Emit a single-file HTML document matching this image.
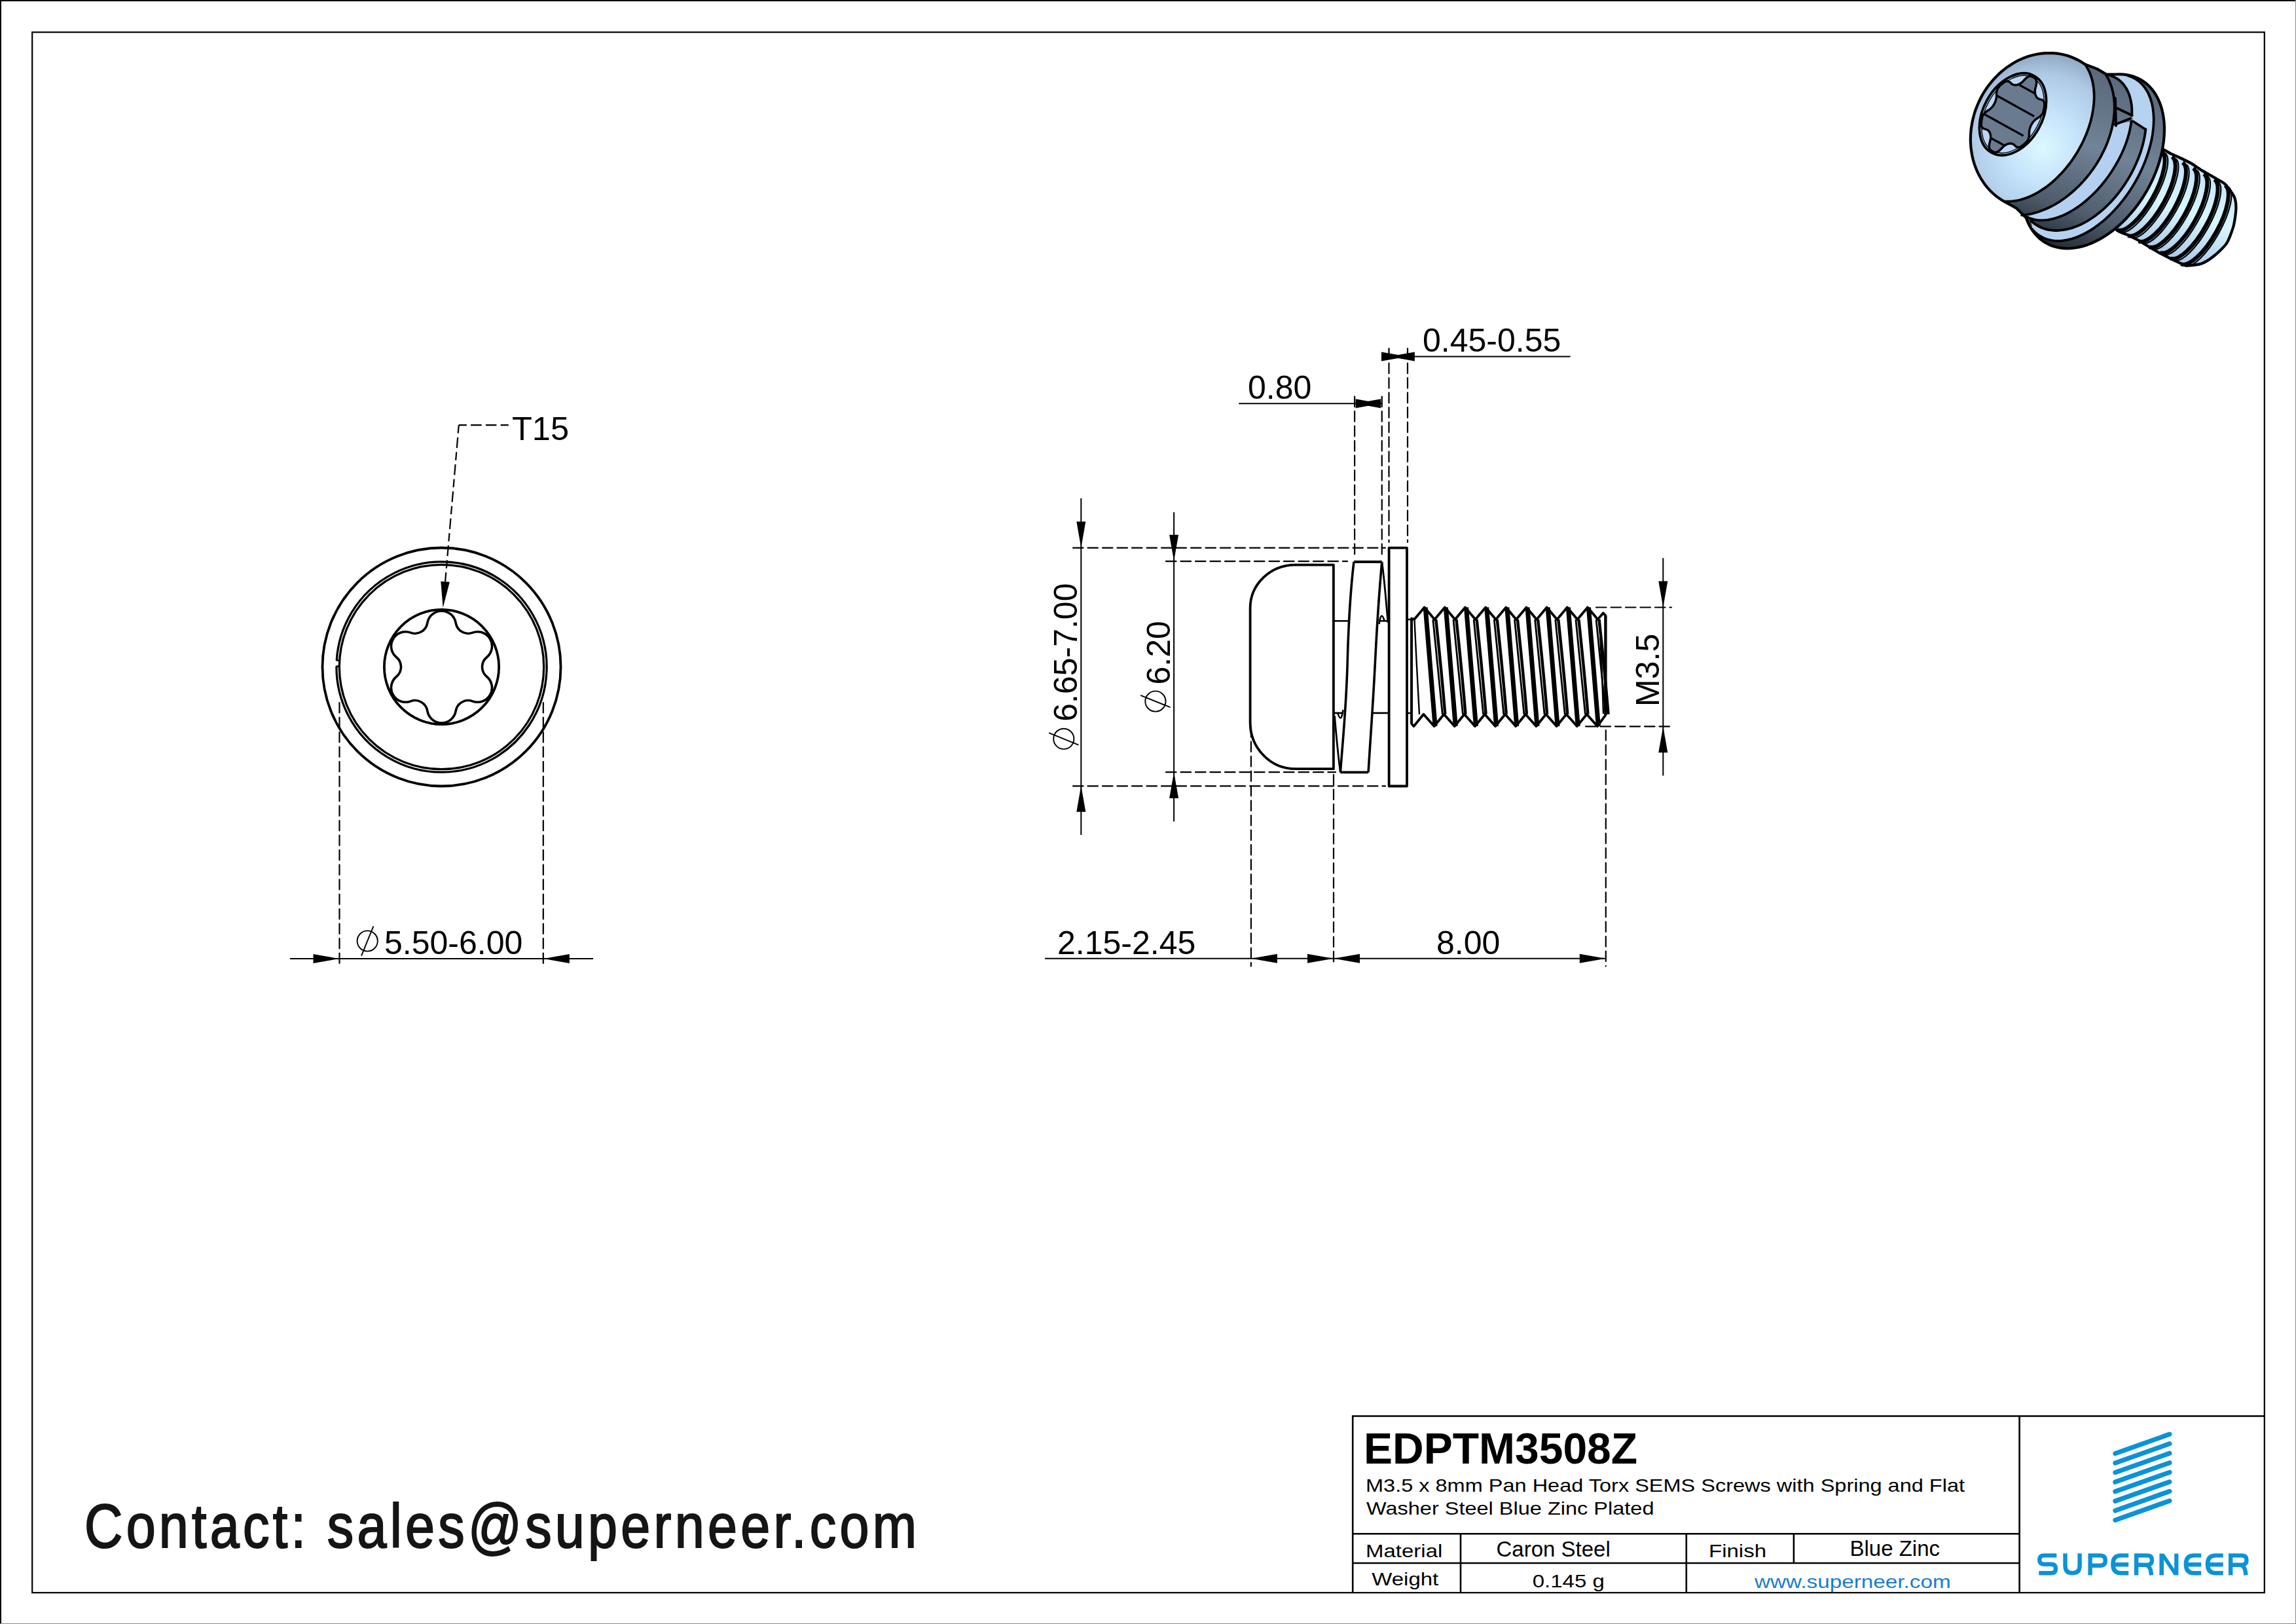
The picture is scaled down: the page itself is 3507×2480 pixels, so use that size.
<!DOCTYPE html><html><head><meta charset="utf-8"><style>html,body{margin:0;padding:0;background:#fff;}svg{display:block}</style></head><body>
<svg width="3507" height="2480" viewBox="0 0 3507 2480">
<rect x="0" y="0" width="3507" height="2480" fill="#fff"/>
<rect x="0" y="0" width="3507" height="2" fill="#000"/><rect x="0" y="0" width="2" height="2480" fill="#000"/>
<rect x="3506" y="0" width="1" height="2480" fill="#8a8a8a"/>
<rect x="0" y="2479" width="3507" height="1" fill="#8a8a8a"/>
<rect x="49.2" y="49.2" width="3409.6" height="2383" fill="none" stroke="#000" stroke-width="2.2"/>
<g fill="none" stroke="#000">
<circle cx="674.5" cy="1018.5" r="182" stroke-width="3.8"/>
<circle cx="674.5" cy="1018.5" r="156.2" stroke-width="3.3"/>
<path d="M514.21,1008.5 A160.6,160.6 0 1 1 513.9,1017.5" stroke-width="3.3"/>
<path d="M513.71,1008.5 H518.71 M513.4,1017.5 H518.4" stroke-width="2.5"/>
<circle cx="674.5" cy="1018.5" r="87.6" stroke-width="3.8"/>
<path d="M652.8,951.39 A22,22 0 0 1 696.2,951.39 A19.11,19.11 0 0 0 721.77,966.15 A22,22 0 0 1 743.47,1003.74 A19.11,19.11 0 0 0 743.47,1033.26 A22,22 0 0 1 721.77,1070.85 A19.11,19.11 0 0 0 696.2,1085.61 A22,22 0 0 1 652.8,1085.61 A19.11,19.11 0 0 0 627.23,1070.85 A22,22 0 0 1 605.53,1033.26 A19.11,19.11 0 0 0 605.53,1003.74 A22,22 0 0 1 627.23,966.15 A19.11,19.11 0 0 0 652.8,951.39 Z" stroke-width="3.6"/>
</g>
<path d="M700.8,649.2 L776.7,649.2" fill="none" stroke="#000" stroke-width="2.2" stroke-dasharray="12 6.3 16.5 6.3 16.5 6.3 14"/>
<path d="M700.8,649.2 L680.06,888.25" fill="none" stroke="#000" stroke-width="2.2" stroke-dasharray="12.5 6.3 16.3 6.3"/>
<path d="M676.6,928.1 L673.28,887.66 L686.83,888.84 Z" fill="#000"/>
<text x="782" y="671.5" font-family="Liberation Sans" font-size="50.5" fill="#000">T15</text>
<line x1="518.5" y1="1073" x2="518.5" y2="1472.5" stroke="#000" stroke-width="2.2" stroke-dasharray="15.5 7" stroke-linecap="round"/>
<line x1="829.8" y1="1073" x2="829.8" y2="1472.5" stroke="#000" stroke-width="2.2" stroke-dasharray="15.5 7" stroke-linecap="round"/>
<line x1="443" y1="1464" x2="906" y2="1464" stroke="#000" stroke-width="2"/>
<path d="M518.5,1464 L478.5,1471 L478.5,1457 Z" fill="#000"/>
<path d="M829.8,1464 L869.8,1457 L869.8,1471 Z" fill="#000"/>
<g transform="translate(561.2,1437) rotate(0)"><circle cx="0" cy="0" r="15.6" fill="none" stroke="#000" stroke-width="1.9"/><line x1="-9.22" y1="22.7" x2="9.22" y2="-22.7" stroke="#000" stroke-width="1.9"/></g>
<text x="587" y="1457.2" font-family="Liberation Sans" font-size="50" fill="#000">5.50-6.00</text>
<g fill="none" stroke="#000" stroke-linejoin="round">
<path d="M2036.9,862.6 H1978.5 A69,66 0 0 0 1909.6,928.4 V1103 A69,71 0 0 0 1978.5,1174.2 H2036.9 Z" stroke-width="3.8"/>
<path d="M2037,948.3 H2061 M2108,948.3 H2121.6 M2037,1088.9 H2050 M2097,1088.9 H2121.6 M2149,946 H2156 M2149,1089 H2156" stroke-width="2.6"/>
<path d="M2067.9,858 H2110.8 M2047.4,1179.4 H2090.1" stroke-width="3.8"/>
<path d="M2067.9,858 C2063,900 2059.5,960 2058.2,1010 C2056.5,1080 2051,1130 2047.4,1179.4" stroke-width="3.6"/>
<path d="M2110.8,858 C2107,900 2103,960 2100.5,1010 C2097,1080 2093,1130 2090.1,1179.4" stroke-width="3.6"/>
<path d="M2110.8,858 C2114,880 2117,915 2120,951" stroke-width="2.8"/>
<path d="M2047.4,1179.4 C2044,1157 2041,1122 2038.5,1093" stroke-width="2.8"/>
<path d="M2106.5,953 C2107.5,945 2109,940.5 2110.5,940.5 C2112,940.5 2113.5,944 2115,949" stroke-width="2.6"/>
<path d="M2051.5,1084 C2050.5,1092 2049,1096.5 2047.5,1096.5 C2046,1096.5 2044.5,1093 2043,1088" stroke-width="2.6"/>
<rect x="2121.6" y="836.7" width="27.4" height="363.8" stroke-width="3.8"/>
<path d="M2156.1,944.5 L2160.1,945.9 L2175.7,927.6 L2191.3,945.9 L2206.86,927.6 L2222.46,945.9 L2238.02,927.6 L2253.62,945.9 L2269.18,927.6 L2284.78,945.9 L2300.34,927.6 L2315.94,945.9 L2331.5,927.6 L2347.1,945.9 L2362.66,927.6 L2378.26,945.9 L2393.82,927.6 L2409.42,945.9 L2424.98,927.6 L2440.58,945.9 L2448.7,936.2 L2452.4,940 L2452.4,1092 L2439.88,1109.1 L2423.68,1090.8 L2408.72,1109.1 L2392.52,1090.8 L2377.56,1109.1 L2361.36,1090.8 L2346.4,1109.1 L2330.2,1090.8 L2315.24,1109.1 L2299.04,1090.8 L2284.08,1109.1 L2267.88,1090.8 L2252.92,1109.1 L2236.72,1090.8 L2221.76,1109.1 L2205.56,1090.8 L2190.6,1109.1 L2174.4,1090.8 L2159.44,1109.1 L2156.1,1105 Z" stroke-width="3.8"/>
<path d="M2177.2,927.6 L2192.1,1109.1 M2208.36,927.6 L2223.26,1109.1 M2239.52,927.6 L2254.42,1109.1 M2270.68,927.6 L2285.58,1109.1 M2301.84,927.6 L2316.74,1109.1 M2333,927.6 L2347.9,1109.1 M2364.16,927.6 L2379.06,1109.1 M2395.32,927.6 L2410.22,1109.1 M2426.48,927.6 L2441.38,1109.1 " stroke-width="7"/>
<path d="M2188.8,946 Q2197.3,1030 2203.3,1090.8 M2219.96,946 Q2228.46,1030 2234.46,1090.8 M2251.12,946 Q2259.62,1030 2265.62,1090.8 M2282.28,946 Q2290.78,1030 2296.78,1090.8 M2313.44,946 Q2321.94,1030 2327.94,1090.8 M2344.6,946 Q2353.1,1030 2359.1,1090.8 M2375.76,946 Q2384.26,1030 2390.26,1090.8 M2406.92,946 Q2415.42,1030 2421.42,1090.8 M2438.08,946 Q2446.58,1030 2452.58,1090.8 " stroke-width="2.8"/>
<path d="M2193.3,946 Q2202.3,1030 2207.3,1090.8 M2224.46,946 Q2233.46,1030 2238.46,1090.8 M2255.62,946 Q2264.62,1030 2269.62,1090.8 M2286.78,946 Q2295.78,1030 2300.78,1090.8 M2317.94,946 Q2326.94,1030 2331.94,1090.8 M2349.1,946 Q2358.1,1030 2363.1,1090.8 M2380.26,946 Q2389.26,1030 2394.26,1090.8 M2411.42,946 Q2420.42,1030 2425.42,1090.8 M2442.58,946 Q2451.58,1030 2456.58,1090.8 " stroke-width="4.4"/>
<path d="M2156.1,944.5 L2156.1,1105" stroke-width="3.6"/>
<path d="M2160.5,946 Q2164,1020 2168,1091" stroke-width="2.4"/>
<path d="M2452.4,940 L2452.4,1092" stroke-width="4"/>
<path d="M2443,946 Q2447,1020 2449,1090" stroke-width="2.4"/>
</g>
<line x1="1639" y1="836.6" x2="2116" y2="836.6" stroke="#000" stroke-width="2.2" stroke-dasharray="15.5 7" stroke-linecap="round"/>
<line x1="1639" y1="1200.4" x2="2116" y2="1200.4" stroke="#000" stroke-width="2.2" stroke-dasharray="15.5 7" stroke-linecap="round"/>
<line x1="1781" y1="857.2" x2="2058" y2="857.2" stroke="#000" stroke-width="2.2" stroke-dasharray="15.5 7" stroke-linecap="round"/>
<line x1="1781" y1="1179.2" x2="2040" y2="1179.2" stroke="#000" stroke-width="2.2" stroke-dasharray="15.5 7" stroke-linecap="round"/>
<line x1="2069.1" y1="605.7" x2="2069.1" y2="848" stroke="#000" stroke-width="2.2" stroke-dasharray="15.5 7" stroke-linecap="round"/>
<line x1="2110.75" y1="605.7" x2="2110.75" y2="848" stroke="#000" stroke-width="2.2" stroke-dasharray="15.5 7" stroke-linecap="round"/>
<line x1="2121.5" y1="532.2" x2="2121.5" y2="828" stroke="#000" stroke-width="2.2" stroke-dasharray="15.5 7" stroke-linecap="round"/>
<line x1="2150" y1="532.2" x2="2150" y2="828" stroke="#000" stroke-width="2.2" stroke-dasharray="15.5 7" stroke-linecap="round"/>
<line x1="1910.9" y1="1110" x2="1910.9" y2="1475.5" stroke="#000" stroke-width="2.2" stroke-dasharray="15.5 7" stroke-linecap="round"/>
<line x1="2037" y1="1183" x2="2037" y2="1468.6" stroke="#000" stroke-width="2.2" stroke-dasharray="15.5 7" stroke-linecap="round"/>
<line x1="2452.8" y1="1115" x2="2452.8" y2="1475.5" stroke="#000" stroke-width="2.2" stroke-dasharray="15.5 7" stroke-linecap="round"/>
<line x1="2438" y1="927.5" x2="2553" y2="927.5" stroke="#000" stroke-width="2.2" stroke-dasharray="15.5 7" stroke-linecap="round"/>
<line x1="2422" y1="1109.3" x2="2551" y2="1109.3" stroke="#000" stroke-width="2.2" stroke-dasharray="15.5 7" stroke-linecap="round"/>
<line x1="1651.3" y1="761" x2="1651.3" y2="1275" stroke="#000" stroke-width="2"/>
<path d="M1651.3,836.5 L1644.3,796.5 L1658.3,796.5 Z" fill="#000"/>
<path d="M1651.3,1199.7 L1658.3,1239.7 L1644.3,1239.7 Z" fill="#000"/>
<line x1="1793.1" y1="782.3" x2="1793.1" y2="1254.6" stroke="#000" stroke-width="2"/>
<path d="M1793.1,856.8 L1786.1,816.8 L1800.1,816.8 Z" fill="#000"/>
<path d="M1793.1,1179 L1800.1,1219 L1786.1,1219 Z" fill="#000"/>
<line x1="2540.3" y1="852.2" x2="2540.3" y2="1184.6" stroke="#000" stroke-width="2"/>
<path d="M2540.3,927.5 L2533.3,887.5 L2547.3,887.5 Z" fill="#000"/>
<path d="M2540.3,1109.3 L2547.3,1149.3 L2533.3,1149.3 Z" fill="#000"/>
<line x1="1596" y1="1463.8" x2="2452.8" y2="1463.8" stroke="#000" stroke-width="2"/>
<path d="M1910.9,1463.8 L1950.9,1456.8 L1950.9,1470.8 Z" fill="#000"/>
<path d="M2037,1463.8 L1997,1470.8 L1997,1456.8 Z" fill="#000"/>
<path d="M2037,1463.8 L2077,1456.8 L2077,1470.8 Z" fill="#000"/>
<path d="M2452.8,1463.8 L2412.8,1470.8 L2412.8,1456.8 Z" fill="#000"/>
<line x1="1892.2" y1="616.2" x2="2110" y2="616.2" stroke="#000" stroke-width="2"/>
<path d="M2109.1,616.2 L2070.7,623.2 L2070.7,609.2 Z" fill="#000"/>
<path d="M2070.7,616.2 L2109.1,609.2 L2109.1,623.2 Z" fill="#000"/>
<line x1="2110" y1="544.5" x2="2398.6" y2="544.5" stroke="#000" stroke-width="2"/>
<path d="M2150,544.5 L2110,551.5 L2110,537.5 Z" fill="#000"/>
<path d="M2121.5,544.5 L2160.9,537.5 L2160.9,551.5 Z" fill="#000"/>
<text x="1906" y="608.8" font-family="Liberation Sans" font-size="50" fill="#000">0.80</text>
<text x="2173" y="537" font-family="Liberation Sans" font-size="50" fill="#000">0.45-0.55</text>
<text x="1615" y="1457.2" font-family="Liberation Sans" font-size="50" fill="#000">2.15-2.45</text>
<text x="2194" y="1457.2" font-family="Liberation Sans" font-size="50" fill="#000">8.00</text>
<text transform="translate(1644.8,1099.8) rotate(-90)" x="-2" y="0" font-family="Liberation Sans" font-size="50" fill="#000">6.65-7.00</text>
<g transform="translate(1624.8,1128.3) rotate(-90)"><circle cx="0" cy="0" r="15.6" fill="none" stroke="#000" stroke-width="1.9"/><line x1="-9.22" y1="22.7" x2="9.22" y2="-22.7" stroke="#000" stroke-width="1.9"/></g>
<text transform="translate(1787,1043.5) rotate(-90)" x="-2" y="0" font-family="Liberation Sans" font-size="50" fill="#000">6.20</text>
<g transform="translate(1764.9,1071) rotate(-90)"><circle cx="0" cy="0" r="15.6" fill="none" stroke="#000" stroke-width="1.9"/><line x1="-9.22" y1="22.7" x2="9.22" y2="-22.7" stroke="#000" stroke-width="1.9"/></g>
<text transform="translate(2533.5,1074.9) rotate(-90)" x="-4" y="0" font-family="Liberation Sans" font-size="50" fill="#000">M3.5</text>
<g fill="none" stroke="#000" stroke-width="2.6">
<path d="M2066.2,2432 V2162.5 H3459 M3084.6,2162.5 V2432 M2066.2,2342.2 H3084.6 M2066.2,2387 H3084.6 M2231,2342.2 V2432 M2575.8,2342.2 V2432 M2739.9,2342.2 V2387"/>
</g>
<text x="2083" y="2235.2" font-family="Liberation Sans" fill="#000" font-size="66" font-weight="bold">EDPTM3508Z</text>
<text transform="translate(2086,2277.6) scale(1,0.85)" x="0" y="0" font-family="Liberation Sans" fill="#000" font-size="32.5">M3.5 x 8mm Pan Head Torx SEMS Screws with Spring and Flat</text>
<text transform="translate(2087,2313.3) scale(1,0.85)" x="0" y="0" font-family="Liberation Sans" fill="#000" font-size="32.5">Washer Steel Blue Zinc Plated</text>
<text transform="translate(2086,2377.7) scale(1,0.85)" x="0" y="0" font-family="Liberation Sans" fill="#000" font-size="33">Material</text>
<text x="2285.5" y="2377.2" font-family="Liberation Sans" fill="#000" font-size="33">Caron Steel</text>
<text transform="translate(2610,2377.5) scale(1,0.85)" x="0" y="0" font-family="Liberation Sans" fill="#000" font-size="33">Finish</text>
<text x="2825.5" y="2376.4" font-family="Liberation Sans" fill="#000" font-size="33">Blue Zinc</text>
<text transform="translate(2095.2,2421) scale(1,0.85)" x="0" y="0" font-family="Liberation Sans" fill="#000" font-size="33">Weight</text>
<text transform="translate(2340.7,2424.3) scale(1,0.85)" x="0" y="0" font-family="Liberation Sans" fill="#000" font-size="33">0.145 g</text>
<text transform="translate(2680,2424.6) scale(1,0.85)" x="0" y="0" font-family="Liberation Sans" fill="#1a7dd0" font-size="33.3">www.superneer.com</text>
<path d="M3230.9,2219.6 L3313.9,2190.2 M3230.9,2234.13 L3313.9,2204.73 M3230.9,2248.66 L3313.9,2219.26 M3230.9,2263.19 L3313.9,2233.79 M3230.9,2277.72 L3313.9,2248.32 M3230.9,2292.25 L3313.9,2262.85 M3230.9,2306.78 L3313.9,2277.38 M3230.9,2321.31 L3313.9,2291.91 " stroke="#0a93d8" stroke-width="7.2" stroke-linecap="round" fill="none"/>
<path d="M3141.3,2375.4 H3122 Q3115.2,2375.4 3115.2,2382.1 Q3115.2,2388.8 3122,2388.8 H3133 Q3140,2388.8 3140,2395.5 Q3140,2402.3 3133,2402.3 H3114.3 M3154.5,2372.2 V2391 Q3154.5,2402.3 3165.5,2402.3 Q3176.6,2402.3 3176.6,2391 V2372.2 M3192.6,2405.5 V2375.4 H3208 Q3215.8,2375.4 3215.8,2383.1 Q3215.8,2390.8 3208,2390.8 H3192.6 M3251.2,2375.4 H3239.35 Q3227.35,2375.4 3227.35,2388.8 Q3227.35,2402.3 3239.35,2402.3 H3251.2 M3227.35,2389.2 H3251.2 M3263.15,2405.5 V2375.4 H3280.05 Q3287.05,2375.4 3287.05,2382.6 Q3287.05,2389.8 3280.05,2389.8 H3263.15 M3278.05,2389.8 Q3285.05,2391 3286.05,2405.5 M3362.2,2375.4 H3350.85 Q3338.85,2375.4 3338.85,2388.8 Q3338.85,2402.3 3350.85,2402.3 H3362.2 M3338.85,2389.2 H3362.2 M3395.7,2375.4 H3383.95 Q3371.95,2375.4 3371.95,2388.8 Q3371.95,2402.3 3383.95,2402.3 H3395.7 M3371.95,2389.2 H3395.7 M3407.15,2405.5 V2375.4 H3424.45 Q3431.45,2375.4 3431.45,2382.6 Q3431.45,2389.8 3424.45,2389.8 H3407.15 M3422.45,2389.8 Q3429.45,2391 3430.45,2405.5" stroke="#0a93d8" stroke-width="6.4" fill="none" stroke-linejoin="miter"/>
<path d="M3298.4,2405.5 L3298.4,2372.4 L3305.5,2372.4 L3321.2,2396 L3321.2,2372.4 L3327.4,2372.4 L3327.4,2405.5 L3320.8,2405.5 L3305,2381.9 L3305,2405.5 Z" fill="#0a93d8"/>
<text transform="translate(129,2363.2) scale(0.86,1)" x="0" y="0" font-family="Liberation Sans" font-size="94" fill="#151515" stroke="#151515" stroke-width="2.2" textLength="1478" lengthAdjust="spacing">Contact: sales@superneer.com</text>
<defs>
<radialGradient id="hg" gradientUnits="userSpaceOnUse" cx="3120" cy="225" r="160"><stop offset="0" stop-color="#dcf8ff"/><stop offset="0.35" stop-color="#c5e3fb"/><stop offset="0.7" stop-color="#aec9e5"/><stop offset="0.9" stop-color="#91a8c1"/><stop offset="1" stop-color="#7a8ea6"/></radialGradient>
<linearGradient id="dg" gradientUnits="userSpaceOnUse" x1="3240" y1="120" x2="3140" y2="385"><stop offset="0" stop-color="#5a687b"/><stop offset="0.4" stop-color="#718397"/><stop offset="0.75" stop-color="#4f5d6d"/><stop offset="1" stop-color="#1f262e"/></linearGradient>
<linearGradient id="tg" gradientUnits="userSpaceOnUse" x1="3345" y1="250" x2="3290" y2="395"><stop offset="0" stop-color="#c4e3ff"/><stop offset="0.45" stop-color="#d8f6ff"/><stop offset="1" stop-color="#a4c2e4"/></linearGradient>
<linearGradient id="sg" gradientUnits="userSpaceOnUse" x1="3050" y1="130" x2="3100" y2="230"><stop offset="0" stop-color="#6a7b90"/><stop offset="0.5" stop-color="#8a9cb2"/><stop offset="1" stop-color="#5c6c80"/></linearGradient>
</defs>
<path d="M3262,240 C3270.3,229 3289.7,226.6 3296,226 C3302.3,225.4 3311.7,232.8 3315.7,234.6 C3319.7,236.3 3326.1,239.2 3329.9,241 C3333.7,242.8 3344.1,247.8 3348,250.1 C3351.9,252.4 3359.6,258 3363.5,260.4 C3367.4,262.8 3377.5,268.4 3381.6,270.8 C3385.7,273.2 3394.9,277.6 3398.5,281.1 C3402.1,284.6 3410.7,296 3412.7,300.5 C3414.7,305 3415.5,314.7 3415.3,320 C3415.1,325.3 3413.1,339.8 3411.4,345.8 C3409.7,351.8 3404.5,366.3 3401,371.6 C3397.5,376.9 3386.1,387.4 3381.6,391 C3377.1,394.6 3367.2,401 3362.2,402.7 C3357.2,404.4 3343.8,405.9 3339,405.3 C3334.2,404.7 3325.4,399.6 3320.9,397.5 C3316.4,395.4 3304.7,389.6 3300.2,387.2 C3295.7,384.8 3286.2,379.2 3282.1,376.8 C3278,374.4 3269.1,368.6 3265.3,366.5 C3261.5,364.4 3253.6,360.6 3249.7,358.7 C3245.8,356.8 3234.9,354.5 3232,350 C3229.1,345.5 3221.5,332.8 3225,320 C3228.5,307.2 3253.7,251 3262,240Z" fill="url(#tg)" stroke="#000" stroke-width="4.2" stroke-linejoin="round"/>
<path d="M3301.5,230.7 A24,69 29.2 0 1 3234.2,351 M3317.7,239.4 A24,69 29.2 0 1 3250.4,359.7 M3333.9,248.1 A24,69 29.2 0 1 3266.6,368.4 M3350.1,256.8 A24,69 29.2 0 1 3282.8,377.1 M3366.3,265.5 A24,69 29.2 0 1 3299,385.8 M3382.5,274.2 A24,69 29.2 0 1 3315.2,394.5 M3398.7,282.9 A24,69 29.2 0 1 3331.4,403.2 " fill="none" stroke="#000" stroke-width="6"/>
<path d="M3307,233.7 A22,69 29.2 0 1 3239.7,354 M3323.2,242.4 A22,69 29.2 0 1 3255.9,362.7 M3339.4,251.1 A22,69 29.2 0 1 3272.1,371.4 M3355.6,259.8 A22,69 29.2 0 1 3288.3,380.1 M3371.8,268.5 A22,69 29.2 0 1 3304.5,388.8 M3388,277.2 A22,69 29.2 0 1 3320.7,397.5 M3404.2,285.9 A22,69 29.2 0 1 3336.9,406.2 " fill="none" stroke="#000" stroke-width="2.2"/>
<path d="M3184.5,98.1 L3179.7,94.9 L3174.7,92 L3169.5,89.5 L3164.2,87.2 L3158.8,85.3 L3153.3,83.8 L3147.6,82.5 L3141.9,81.7 L3136.1,81.1 L3130.3,81 L3124.4,81.1 L3118.5,81.6 L3112.6,82.5 L3106.7,83.7 L3100.9,85.2 L3095.1,87.1 L3089.4,89.3 L3083.7,91.9 L3078.2,94.7 L3072.8,97.9 L3067.5,101.4 L3062.4,105.1 L3057.5,109.1 L3052.7,113.4 L3048.1,118 L3043.7,122.8 L3039.6,127.8 L3035.6,133 L3032,138.4 L3028.5,144 L3025.4,149.8 L3022.5,155.7 L3019.9,161.8 L3017.5,167.9 L3015.5,174.2 L3013.8,180.5 L3012.4,186.9 L3011.3,193.4 L3010.5,199.8 L3010,206.3 L3009.8,212.7 L3010,219.1 L3010.5,225.4 L3011.3,231.7 L3012.4,237.9 L3013.8,244 L3015.5,249.9 L3017.6,255.7 L3019.9,261.4 L3022.5,266.8 L3025.4,272.1 L3028.6,277.1 L3032,282 L3035.7,286.6 L3039.6,290.9 L3043.8,295 L3048.2,298.8 L3052.8,302.3 L3057.6,305.5 L3062.5,308.4 L3080,318 L3094.1,331.9 L3094.4,331.6 L3096.6,337.4 L3099.1,342.9 L3101.9,348.1 L3105.1,352.9 L3108.6,357.3 L3112.4,361.4 L3116.4,365.1 L3120.8,368.4 L3125.4,371.2 L3130.2,373.7 L3135.3,375.7 L3140.5,377.3 L3146,378.4 L3151.7,379.1 L3157.5,379.4 L3163.4,379.2 L3169.4,378.5 L3175.6,377.4 L3181.8,375.9 L3188.1,373.9 L3194.4,371.5 L3200.7,368.7 L3207,365.4 L3213.2,361.8 L3219.4,357.8 L3225.6,353.3 L3231.6,348.6 L3237.6,343.4 L3243.3,338 L3249,332.2 L3254.4,326.2 L3259.7,319.9 L3264.8,313.3 L3269.6,306.5 L3274.2,299.5 L3278.5,292.4 L3282.6,285 L3286.3,277.6 L3289.8,270 L3293,262.3 L3295.8,254.6 L3298.3,246.9 L3300.4,239.2 L3302.3,231.5 L3303.7,223.8 L3304.8,216.2 L3305.5,208.8 L3305.9,201.4 L3305.9,194.2 L3305.6,187.2 L3304.8,180.4 L3303.7,173.8 L3302.3,167.4 L3300.5,161.3 L3298.3,155.5 L3295.8,150 L3293,144.9 L3289.8,140 L3286.4,135.6 L3282.6,131.5 L3278.6,127.8 L3274.2,124.5 L3269.7,121.6 L3264.8,119.1 L3259.8,117.1 L3254.5,115.5 L3249,114.3 L3243.4,113.6 L3237.6,113.3 L3231.7,113.5 L3217,113.4 L3203.1,105.1 Z" fill="url(#dg)"/>
<path d="M3250.2,115.5 L3254.8,117.1 L3259.1,119.1 L3263.2,121.4 L3267,124.2 L3270.6,127.4 L3273.9,131 L3276.9,134.9 L3279.6,139.2 L3282,143.9 L3284.1,148.9 L3285.8,154.1 L3287.3,159.7 L3288.4,165.6 L3289.1,171.7 L3289.6,178 L3289.7,184.6 L3289.4,191.3 L3288.8,198.3 L3287.9,205.3 L3286.6,212.5 L3285,219.8 L3283,227.1 L3280.8,234.5 L3278.2,241.9 L3275.4,249.3 L3272.2,256.7 L3268.8,264 L3265.1,271.3 L3261.1,278.4 L3256.9,285.4 L3252.5,292.3 L3247.8,299 L3242.9,305.5 L3237.9,311.7 L3232.7,317.8 L3227.3,323.5 L3221.9,329 L3216.3,334.2 L3210.6,339.1 L3204.8,343.6 L3199,347.8 L3193.2,351.6 L3187.3,355 L3181.5,358.1 L3175.6,360.7 L3169.8,363 L3164.1,364.8 L3158.5,366.2 L3153,367.2 L3147.6,367.8 L3142.3,367.9 L3137.2,367.6 L3132.3,366.8 L3127.5,365.7 L3123,364.1 L3118.7,362 L3114.7,359.6 L3110.8,356.8 L3107.3,353.6 L3104,349.9 L3102.6,337.4 L3105.5,340 L3108.6,342.4 L3111.9,344.5 L3115.3,346.3 L3118.8,347.9 L3122.5,349.2 L3126.3,350.3 L3130.2,351.1 L3134.3,351.7 L3138.4,352 L3142.6,352 L3146.9,351.7 L3151.3,351.2 L3155.7,350.4 L3160.2,349.4 L3164.8,348.1 L3169.3,346.5 L3173.9,344.7 L3178.5,342.7 L3183.1,340.4 L3187.7,337.8 L3192.3,335 L3196.9,332 L3201.4,328.8 L3205.9,325.3 L3210.3,321.6 L3214.6,317.8 L3218.9,313.7 L3223.1,309.5 L3227.2,305.1 L3231.2,300.5 L3235,295.8 L3238.8,290.9 L3242.4,285.9 L3245.9,280.8 L3249.2,275.6 L3252.4,270.2 L3255.5,264.8 L3258.3,259.3 L3261,253.7 L3263.5,248.1 L3265.9,242.5 L3268,236.8 L3270,231.1 L3271.7,225.4 L3273.3,219.7 L3274.6,214.1 L3275.8,208.5 L3276.7,202.9 L3277.4,197.4 L3258.6,185.5 L3256.3,176.4 L3256.4,170.5 L3256.2,164.8 L3255.7,159.4 L3254.8,154.1 L3253.6,149.1 L3252.1,144.3 L3250.3,139.9 L3248.2,135.7 L3245.8,131.9 L3243.1,128.4 L3240.1,125.2 L3236.9,122.3 L3233.4,119.9 L3229.6,117.8 L3225.6,116 L3221.4,114.7 L3240,112.5 Z" fill="#b5d2f1"/>
<path d="M3230.9,190.1 L3254.9,185.5 L3255.5,185.2 L3254.8,189.9 L3254,194.7 L3253,199.5 L3251.8,204.4 L3250.4,209.3 L3248.8,214.3 L3247.1,219.3 L3245.2,224.3 L3243.1,229.2 L3240.9,234.2 L3238.5,239.2 L3236,244.1 L3233.3,249 L3230.5,253.8 L3227.6,258.6 L3224.5,263.3 L3221.3,268 L3218,272.5 L3214.6,277 L3211.1,281.3 L3207.5,285.6 L3203.8,289.7 L3200,293.7 L3196.1,297.5 L3192.2,301.2 L3188.2,304.8 L3184.2,308.2 L3180.1,311.4 L3176,314.5 L3171.9,317.3 L3167.7,320 L3163.6,322.5 L3159.4,324.8 L3155.3,327 L3151.1,328.9 L3147,330.6 L3142.9,332 L3138.9,333.3 L3134.9,334.4 L3131,335.2 L3127.1,335.8 L3123.3,336.2 L3119.6,336.4 L3115.9,336.4 L3112.4,336.1 L3109,335.6 L3105.6,334.9 L3102.4,334 L3099.3,332.8 L3096.3,331.4 L3088.2,328.7 L3093.2,328.2 L3098.2,327.4 L3103.3,326.3 L3108.5,325 L3113.6,323.5 L3118.8,321.6 L3124,319.6 L3129.1,317.2 L3134.3,314.6 L3139.4,311.8 L3144.5,308.8 L3149.5,305.5 L3154.4,302 L3159.3,298.3 L3164.1,294.3 L3168.8,290.2 L3173.3,285.9 L3177.8,281.5 L3182.1,276.8 L3186.3,272 L3190.3,267.1 L3194.2,262 L3198,256.8 L3201.5,251.5 L3204.9,246.1 L3208.1,240.6 L3211,235 L3213.8,229.4 L3216.4,223.7 L3218.8,218 L3220.9,212.2 L3222.8,206.5 L3224.5,200.7 L3226,194.9 Z" fill="#b3d0f0"/>
<path d="M3184.5,98.1 L3179.7,94.9 L3174.7,92 L3169.5,89.5 L3164.2,87.2 L3158.8,85.3 L3153.3,83.8 L3147.6,82.5 L3141.9,81.7 L3136.1,81.1 L3130.3,81 L3124.4,81.1 L3118.5,81.6 L3112.6,82.5 L3106.7,83.7 L3100.9,85.2 L3095.1,87.1 L3089.4,89.3 L3083.7,91.9 L3078.2,94.7 L3072.8,97.9 L3067.5,101.4 L3062.4,105.1 L3057.5,109.1 L3052.7,113.4 L3048.1,118 L3043.7,122.8 L3039.6,127.8 L3035.6,133 L3032,138.4 L3028.5,144 L3025.4,149.8 L3022.5,155.7 L3019.9,161.8 L3017.5,167.9 L3015.5,174.2 L3013.8,180.5 L3012.4,186.9 L3011.3,193.4 L3010.5,199.8 L3010,206.3 L3009.8,212.7 L3010,219.1 L3010.5,225.4 L3011.3,231.7 L3012.4,237.9 L3013.8,244 L3015.5,249.9 L3017.6,255.7 L3019.9,261.4 L3022.5,266.8 L3025.4,272.1 L3028.6,277.1 L3032,282 L3035.7,286.6 L3039.6,290.9 L3043.8,295 L3048.2,298.8 L3052.8,302.3 L3057.6,305.5 L3062.5,308.4 L3062.9,307.6 L3066.6,307.7 L3070.4,307.6 L3074.2,307.2 L3078.1,306.7 L3082.1,306 L3086.1,305 L3090.1,303.9 L3094.1,302.5 L3098.2,300.9 L3102.3,299.2 L3106.4,297.2 L3110.4,295.1 L3114.5,292.8 L3118.5,290.2 L3122.5,287.6 L3126.5,284.7 L3130.4,281.7 L3134.3,278.5 L3138.1,275.1 L3141.9,271.6 L3145.5,267.9 L3149.1,264.2 L3152.7,260.2 L3156.1,256.2 L3159.4,252 L3162.7,247.8 L3165.8,243.4 L3168.8,238.9 L3171.7,234.4 L3174.5,229.7 L3177.1,225 L3179.6,220.3 L3182,215.5 L3184.2,210.6 L3186.3,205.7 L3188.2,200.8 L3190,195.9 L3191.6,191 L3193.1,186 L3194.4,181.1 L3195.5,176.2 L3196.4,171.3 L3197.2,166.5 L3197.8,161.7 L3198.3,157 L3198.6,152.3 L3198.7,147.7 L3198.6,143.2 L3198.3,138.7 L3197.9,134.4 L3197.3,130.2 L3196.5,126 L3195.6,122 L3194.5,118.2 L3193.2,114.4 L3191.8,110.8 L3190.2,107.4 L3188.4,104.1 L3186.5,100.9 L3184.5,98 Z" fill="url(#hg)"/>
<g fill="none" stroke="#000" stroke-width="3.8" stroke-linejoin="round" stroke-linecap="round">
<path d="M3184.5,98 L3186.5,100.9 L3188.4,104.1 L3190.2,107.4 L3191.8,110.8 L3193.2,114.4 L3194.5,118.2 L3195.6,122 L3196.5,126 L3197.3,130.2 L3197.9,134.4 L3198.3,138.7 L3198.6,143.2 L3198.7,147.7 L3198.6,152.3 L3198.3,157 L3197.8,161.7 L3197.2,166.5 L3196.4,171.3 L3195.5,176.2 L3194.4,181.1 L3193.1,186 L3191.6,191 L3190,195.9 L3188.2,200.8 L3186.3,205.7 L3184.2,210.6 L3182,215.5 L3179.6,220.3 L3177.1,225 L3174.5,229.7 L3171.7,234.4 L3168.8,238.9 L3165.8,243.4 L3162.7,247.8 L3159.4,252 L3156.1,256.2 L3152.7,260.2 L3149.1,264.2 L3145.5,267.9 L3141.9,271.6 L3138.1,275.1 L3134.3,278.5 L3130.4,281.7 L3126.5,284.7 L3122.5,287.6 L3118.5,290.2 L3114.5,292.8 L3110.4,295.1 L3106.4,297.2 L3102.3,299.2 L3098.2,300.9 L3094.1,302.5 L3090.1,303.9 L3086.1,305 L3082.1,306 L3078.1,306.7 L3074.2,307.2 L3070.4,307.6 L3066.6,307.7 L3062.9,307.6"/>
<path d="M3216.8,114.5 L3219.2,118.4 L3221.3,122.5 L3223.1,126.8 L3224.8,131.3 L3226.2,136 L3227.4,140.8 L3228.3,145.7 L3229.1,150.8 L3229.5,156 L3229.7,161.4 L3229.7,166.8 L3229.5,172.3 L3228.9,177.9 L3228.2,183.5 L3227.2,189.2 L3226,194.9 L3224.5,200.7 L3222.8,206.5 L3220.9,212.2 L3218.8,218 L3216.4,223.7 L3213.8,229.4 L3211,235 L3208.1,240.6 L3204.9,246.1 L3201.5,251.5 L3198,256.8 L3194.2,262 L3190.3,267.1 L3186.3,272 L3182.1,276.8 L3177.8,281.5 L3173.3,285.9 L3168.8,290.2 L3164.1,294.3 L3159.3,298.3 L3154.4,302 L3149.5,305.5 L3144.5,308.8 L3139.4,311.8 L3134.3,314.6 L3129.1,317.2 L3124,319.6 L3118.8,321.6 L3113.6,323.5 L3108.5,325 L3103.3,326.3 L3098.2,327.4 L3093.2,328.2 L3088.2,328.7"/>
<path d="M3221.4,114.7 L3225.6,116 L3229.6,117.8 L3233.4,119.9 L3236.9,122.3 L3240.1,125.2 L3243.1,128.4 L3245.8,131.9 L3248.2,135.7 L3250.3,139.9 L3252.1,144.3 L3253.6,149.1 L3254.8,154.1 L3255.7,159.4 L3256.2,164.8 L3256.4,170.5 L3256.3,176.4"/>
<path d="M3255.5,185.2 L3254.8,189.9 L3254,194.7 L3253,199.5 L3251.8,204.4 L3250.4,209.3 L3248.8,214.3 L3247.1,219.3 L3245.2,224.3 L3243.1,229.2 L3240.9,234.2 L3238.5,239.2 L3236,244.1 L3233.3,249 L3230.5,253.8 L3227.6,258.6 L3224.5,263.3 L3221.3,268 L3218,272.5 L3214.6,277 L3211.1,281.3 L3207.5,285.6 L3203.8,289.7 L3200,293.7 L3196.1,297.5 L3192.2,301.2 L3188.2,304.8 L3184.2,308.2 L3180.1,311.4 L3176,314.5 L3171.9,317.3 L3167.7,320 L3163.6,322.5 L3159.4,324.8 L3155.3,327 L3151.1,328.9 L3147,330.6 L3142.9,332 L3138.9,333.3 L3134.9,334.4 L3131,335.2 L3127.1,335.8 L3123.3,336.2 L3119.6,336.4 L3115.9,336.4 L3112.4,336.1 L3109,335.6 L3105.6,334.9 L3102.4,334 L3099.3,332.8 L3096.3,331.4"/>
<path d="M3277.4,197.4 L3276.7,202.9 L3275.8,208.5 L3274.6,214.1 L3273.3,219.7 L3271.7,225.4 L3270,231.1 L3268,236.8 L3265.9,242.5 L3263.5,248.1 L3261,253.7 L3258.3,259.3 L3255.5,264.8 L3252.4,270.2 L3249.2,275.6 L3245.9,280.8 L3242.4,285.9 L3238.8,290.9 L3235,295.8 L3231.2,300.5 L3227.2,305.1 L3223.1,309.5 L3218.9,313.7 L3214.6,317.8 L3210.3,321.6 L3205.9,325.3 L3201.4,328.8 L3196.9,332 L3192.3,335 L3187.7,337.8 L3183.1,340.4 L3178.5,342.7 L3173.9,344.7 L3169.3,346.5 L3164.8,348.1 L3160.2,349.4 L3155.7,350.4 L3151.3,351.2 L3146.9,351.7 L3142.6,352 L3138.4,352 L3134.3,351.7 L3130.2,351.1 L3126.3,350.3 L3122.5,349.2 L3118.8,347.9 L3115.3,346.3 L3111.9,344.5 L3108.6,342.4 L3105.5,340 L3102.6,337.4"/>
<path d="M3250.2,115.5 L3254.8,117.1 L3259.1,119.1 L3263.2,121.4 L3267,124.2 L3270.6,127.4 L3273.9,131 L3276.9,134.9 L3279.6,139.2 L3282,143.9 L3284.1,148.9 L3285.8,154.1 L3287.3,159.7 L3288.4,165.6 L3289.1,171.7 L3289.6,178 L3289.7,184.6 L3289.4,191.3 L3288.8,198.3 L3287.9,205.3 L3286.6,212.5 L3285,219.8 L3283,227.1 L3280.8,234.5 L3278.2,241.9 L3275.4,249.3 L3272.2,256.7 L3268.8,264 L3265.1,271.3 L3261.1,278.4 L3256.9,285.4 L3252.5,292.3 L3247.8,299 L3242.9,305.5 L3237.9,311.7 L3232.7,317.8 L3227.3,323.5 L3221.9,329 L3216.3,334.2 L3210.6,339.1 L3204.8,343.6 L3199,347.8 L3193.2,351.6 L3187.3,355 L3181.5,358.1 L3175.6,360.7 L3169.8,363 L3164.1,364.8 L3158.5,366.2 L3153,367.2 L3147.6,367.8 L3142.3,367.9 L3137.2,367.6 L3132.3,366.8 L3127.5,365.7 L3123,364.1 L3118.7,362 L3114.7,359.6 L3110.8,356.8 L3107.3,353.6 L3104,349.9"/>
<path d="M3184.5,98.1 L3179.7,94.9 L3174.7,92 L3169.5,89.5 L3164.2,87.2 L3158.8,85.3 L3153.3,83.8 L3147.6,82.5 L3141.9,81.7 L3136.1,81.1 L3130.3,81 L3124.4,81.1 L3118.5,81.6 L3112.6,82.5 L3106.7,83.7 L3100.9,85.2 L3095.1,87.1 L3089.4,89.3 L3083.7,91.9 L3078.2,94.7 L3072.8,97.9 L3067.5,101.4 L3062.4,105.1 L3057.5,109.1 L3052.7,113.4 L3048.1,118 L3043.7,122.8 L3039.6,127.8 L3035.6,133 L3032,138.4 L3028.5,144 L3025.4,149.8 L3022.5,155.7 L3019.9,161.8 L3017.5,167.9 L3015.5,174.2 L3013.8,180.5 L3012.4,186.9 L3011.3,193.4 L3010.5,199.8 L3010,206.3 L3009.8,212.7 L3010,219.1 L3010.5,225.4 L3011.3,231.7 L3012.4,237.9 L3013.8,244 L3015.5,249.9 L3017.6,255.7 L3019.9,261.4 L3022.5,266.8 L3025.4,272.1 L3028.6,277.1 L3032,282 L3035.7,286.6 L3039.6,290.9 L3043.8,295 L3048.2,298.8 L3052.8,302.3 L3057.6,305.5 L3062.5,308.4 L3080,318 L3094.1,331.9 L3094.4,331.6 L3096.6,337.4 L3099.1,342.9 L3101.9,348.1 L3105.1,352.9 L3108.6,357.3 L3112.4,361.4 L3116.4,365.1 L3120.8,368.4 L3125.4,371.2 L3130.2,373.7 L3135.3,375.7 L3140.5,377.3 L3146,378.4 L3151.7,379.1 L3157.5,379.4 L3163.4,379.2 L3169.4,378.5 L3175.6,377.4 L3181.8,375.9 L3188.1,373.9 L3194.4,371.5 L3200.7,368.7 L3207,365.4 L3213.2,361.8 L3219.4,357.8 L3225.6,353.3 L3231.6,348.6 L3237.6,343.4 L3243.3,338 L3249,332.2 L3254.4,326.2 L3259.7,319.9 L3264.8,313.3 L3269.6,306.5 L3274.2,299.5 L3278.5,292.4 L3282.6,285 L3286.3,277.6 L3289.8,270 L3293,262.3 L3295.8,254.6 L3298.3,246.9 L3300.4,239.2 L3302.3,231.5 L3303.7,223.8 L3304.8,216.2 L3305.5,208.8 L3305.9,201.4 L3305.9,194.2 L3305.6,187.2 L3304.8,180.4 L3303.7,173.8 L3302.3,167.4 L3300.5,161.3 L3298.3,155.5 L3295.8,150 L3293,144.9 L3289.8,140 L3286.4,135.6 L3282.6,131.5 L3278.6,127.8 L3274.2,124.5 L3269.7,121.6 L3264.8,119.1 L3259.8,117.1 L3254.5,115.5 L3249,114.3 L3243.4,113.6 L3237.6,113.3 L3231.7,113.5 L3217,113.4 L3203.1,105.1 Z" stroke-width="4.2"/>
<path d="M3233.6,165.2 L3256.7,176.2 M3230.9,190.1 L3254,180.9 M3258.6,185.5 L3277,197.5 M3231,150 L3232,192" />
</g>
<clipPath id="tc"><path d="M-10.2,-54.1 L-9.1,-57.9 L-7.5,-61.2 L-5.3,-63.7 L-2.7,-65.3 L0,-65.9 L2.7,-65.3 L5.3,-63.7 L7.5,-61.2 L9.1,-57.9 L10.2,-54.1 L11.1,-50.5 L12.4,-47.3 L14.2,-44.5 L16.2,-42.3 L18.5,-40.7 L21,-39.8 L23.5,-39.7 L26,-40.3 L28.8,-40.9 L31.5,-40.3 L34,-38.8 L36.2,-36.2 L37.9,-32.9 L39,-29.1 L39.3,-25 L39,-20.9 L37.9,-17 L36.2,-13.8 L34.6,-10.8 L33.4,-7.4 L32.7,-3.8 L32.4,-0 L32.7,3.8 L33.4,7.4 L34.6,10.8 L36.2,13.8 L37.9,17 L39,20.9 L39.3,25 L39,29.1 L37.9,32.9 L36.2,36.2 L34,38.8 L31.5,40.3 L28.8,40.9 L26,40.3 L23.5,39.7 L21,39.8 L18.5,40.7 L16.2,42.3 L14.2,44.5 L12.4,47.3 L11.1,50.5 L10.2,54.1 L9.1,57.9 L7.5,61.2 L5.3,63.7 L2.7,65.3 L0,65.9 L-2.7,65.3 L-5.3,63.7 L-7.5,61.2 L-9.1,57.9 L-10.2,54.1 L-11.1,50.5 L-12.4,47.3 L-14.2,44.5 L-16.2,42.3 L-18.5,40.7 L-21,39.8 L-23.5,39.7 L-26,40.3 L-28.8,40.9 L-31.5,40.3 L-34,38.8 L-36.2,36.2 L-37.9,32.9 L-39,29.1 L-39.3,25 L-39,20.9 L-37.9,17 L-36.2,13.8 L-34.6,10.8 L-33.4,7.4 L-32.7,3.8 L-32.4,0 L-32.7,-3.8 L-33.4,-7.4 L-34.6,-10.8 L-36.2,-13.8 L-37.9,-17 L-39,-20.9 L-39.3,-25 L-39,-29.1 L-37.9,-32.9 L-36.2,-36.2 L-34,-38.8 L-31.5,-40.3 L-28.8,-40.9 L-26,-40.3 L-23.5,-39.7 L-21,-39.8 L-18.5,-40.7 L-16.2,-42.3 L-14.2,-44.5 L-12.4,-47.3 L-11.1,-50.5Z" transform="translate(3074.5,174.5) rotate(29)"/></clipPath>
<g transform="translate(3074.5,174.5) rotate(29)">
<ellipse cx="0" cy="0" rx="45" ry="67" fill="#b9d6f4"/>
<path d="M-10.2,-54.1 L-9.1,-57.9 L-7.5,-61.2 L-5.3,-63.7 L-2.7,-65.3 L0,-65.9 L2.7,-65.3 L5.3,-63.7 L7.5,-61.2 L9.1,-57.9 L10.2,-54.1 L11.1,-50.5 L12.4,-47.3 L14.2,-44.5 L16.2,-42.3 L18.5,-40.7 L21,-39.8 L23.5,-39.7 L26,-40.3 L28.8,-40.9 L31.5,-40.3 L34,-38.8 L36.2,-36.2 L37.9,-32.9 L39,-29.1 L39.3,-25 L39,-20.9 L37.9,-17 L36.2,-13.8 L34.6,-10.8 L33.4,-7.4 L32.7,-3.8 L32.4,-0 L32.7,3.8 L33.4,7.4 L34.6,10.8 L36.2,13.8 L37.9,17 L39,20.9 L39.3,25 L39,29.1 L37.9,32.9 L36.2,36.2 L34,38.8 L31.5,40.3 L28.8,40.9 L26,40.3 L23.5,39.7 L21,39.8 L18.5,40.7 L16.2,42.3 L14.2,44.5 L12.4,47.3 L11.1,50.5 L10.2,54.1 L9.1,57.9 L7.5,61.2 L5.3,63.7 L2.7,65.3 L0,65.9 L-2.7,65.3 L-5.3,63.7 L-7.5,61.2 L-9.1,57.9 L-10.2,54.1 L-11.1,50.5 L-12.4,47.3 L-14.2,44.5 L-16.2,42.3 L-18.5,40.7 L-21,39.8 L-23.5,39.7 L-26,40.3 L-28.8,40.9 L-31.5,40.3 L-34,38.8 L-36.2,36.2 L-37.9,32.9 L-39,29.1 L-39.3,25 L-39,20.9 L-37.9,17 L-36.2,13.8 L-34.6,10.8 L-33.4,7.4 L-32.7,3.8 L-32.4,0 L-32.7,-3.8 L-33.4,-7.4 L-34.6,-10.8 L-36.2,-13.8 L-37.9,-17 L-39,-20.9 L-39.3,-25 L-39,-29.1 L-37.9,-32.9 L-36.2,-36.2 L-34,-38.8 L-31.5,-40.3 L-28.8,-40.9 L-26,-40.3 L-23.5,-39.7 L-21,-39.8 L-18.5,-40.7 L-16.2,-42.3 L-14.2,-44.5 L-12.4,-47.3 L-11.1,-50.5Z" fill="url(#sg)"/>
</g>
<g clip-path="url(#tc)"><g transform="translate(3074.5,174.5) rotate(29)">
<path d="M-30,-44 L40,-44 M-44,-13 L30,-13 M-44,21 L30,21 M-30,48 L36,48" stroke="#000" stroke-width="3.2" fill="none"/>
</g></g>
<g transform="translate(3074.5,174.5) rotate(29)">
<path d="M-10.2,-54.1 L-9.1,-57.9 L-7.5,-61.2 L-5.3,-63.7 L-2.7,-65.3 L0,-65.9 L2.7,-65.3 L5.3,-63.7 L7.5,-61.2 L9.1,-57.9 L10.2,-54.1 L11.1,-50.5 L12.4,-47.3 L14.2,-44.5 L16.2,-42.3 L18.5,-40.7 L21,-39.8 L23.5,-39.7 L26,-40.3 L28.8,-40.9 L31.5,-40.3 L34,-38.8 L36.2,-36.2 L37.9,-32.9 L39,-29.1 L39.3,-25 L39,-20.9 L37.9,-17 L36.2,-13.8 L34.6,-10.8 L33.4,-7.4 L32.7,-3.8 L32.4,-0 L32.7,3.8 L33.4,7.4 L34.6,10.8 L36.2,13.8 L37.9,17 L39,20.9 L39.3,25 L39,29.1 L37.9,32.9 L36.2,36.2 L34,38.8 L31.5,40.3 L28.8,40.9 L26,40.3 L23.5,39.7 L21,39.8 L18.5,40.7 L16.2,42.3 L14.2,44.5 L12.4,47.3 L11.1,50.5 L10.2,54.1 L9.1,57.9 L7.5,61.2 L5.3,63.7 L2.7,65.3 L0,65.9 L-2.7,65.3 L-5.3,63.7 L-7.5,61.2 L-9.1,57.9 L-10.2,54.1 L-11.1,50.5 L-12.4,47.3 L-14.2,44.5 L-16.2,42.3 L-18.5,40.7 L-21,39.8 L-23.5,39.7 L-26,40.3 L-28.8,40.9 L-31.5,40.3 L-34,38.8 L-36.2,36.2 L-37.9,32.9 L-39,29.1 L-39.3,25 L-39,20.9 L-37.9,17 L-36.2,13.8 L-34.6,10.8 L-33.4,7.4 L-32.7,3.8 L-32.4,0 L-32.7,-3.8 L-33.4,-7.4 L-34.6,-10.8 L-36.2,-13.8 L-37.9,-17 L-39,-20.9 L-39.3,-25 L-39,-29.1 L-37.9,-32.9 L-36.2,-36.2 L-34,-38.8 L-31.5,-40.3 L-28.8,-40.9 L-26,-40.3 L-23.5,-39.7 L-21,-39.8 L-18.5,-40.7 L-16.2,-42.3 L-14.2,-44.5 L-12.4,-47.3 L-11.1,-50.5Z" fill="none" stroke="#000" stroke-width="3.4" stroke-linejoin="round"/>
<ellipse cx="0" cy="0" rx="45" ry="67" fill="none" stroke="#000" stroke-width="3.8"/>
<ellipse cx="0" cy="0" rx="41.5" ry="63.5" fill="none" stroke="#000" stroke-width="1.4"/>
</g>
</svg></body></html>
